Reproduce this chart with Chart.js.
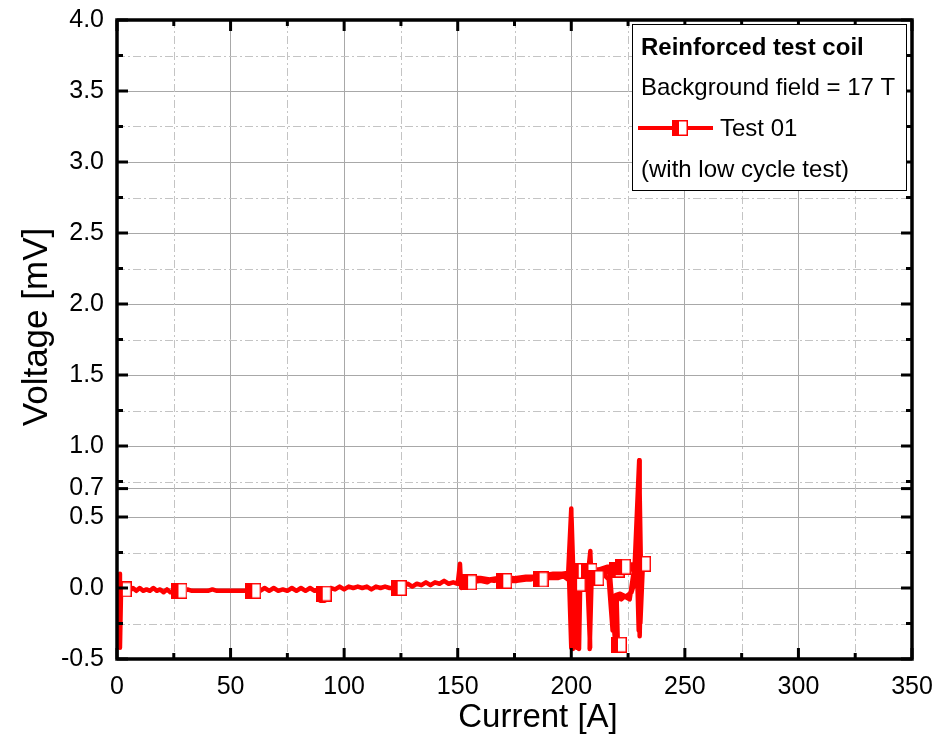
<!DOCTYPE html>
<html><head><meta charset="utf-8">
<script src="https://cdn.jsdelivr.net/npm/chart.js@4/dist/chart.umd.min.js"></script>
<style>html,body{margin:0;padding:0;background:#fff}#wrap{width:951px;height:744px;position:relative}</style>
</head><body><div id="wrap"><canvas id="c" width="951" height="744"></canvas></div>
<script>
// ---- data ----
const current = [1.0,1.3,1.8,3.0,4.5,5.5,7.0,8.5,10.0,11.5,13.0,14.5,16.0,17.5,19.0,20.5,22.0,23.5,25.0,27.0,29.0,31.0,33.0,37.0,40.0,42.0,44.0,48.0,52.0,56.0,59.0,61.0,63.0,65.0,67.0,69.0,71.0,73.0,75.0,77.0,79.0,81.0,83.0,85.0,87.0,88.5,89.5,91.5,92.5,94.0,96.0,98.0,100.0,102.0,104.0,106.0,108.0,110.0,112.0,114.0,116.0,118.0,120.0,123.0,126.0,128.0,130.0,132.0,134.0,136.0,138.0,140.0,142.0,144.0,146.0,148.0,150.0,151.0,151.5,153.0,156.0,160.0,163.0,165.0,168.0,172.0,176.0,180.0,183.0,186.0,190.0,194.0,196.0,198.5,200.0,200.7,201.5,203.4,204.0,206.0,207.5,208.4,208.1,209.0,211.0,214.0,216.9,219.1,220.5,220.0,220.5,222.0,223.5,225.7,227.9,229.9,230.1,230.8,233.0,230.0,226.0,222.0,218.0,214.0,210.0,206.0,202.0,198.0,194.0,190.0,186.0,182.0,178.0,174.0,170.0,166.0,162.0,158.0,154.0,152.0,156.0,160.0,164.0,168.0,172.0,176.0,180.0,184.0,188.0,192.0,196.0,200.0,204.0,208.0,212.0,216.0,220.0,224.0,228.0,232.0,228.0,224.0,220.0,216.0,212.0,208.0,204.0,200.5,199.6,200.3,201.0,202.2,203.0,206.0,209.0,212.0,214.0,216.5,218.2,219.5,221.5,224.0,226.5,229.0,229.6,230.4,231.5,229.4,229.9,230.6,229.7,229.0,226.0,222.0,218.0,214.0,210.0,208.8,208.4,207.8,208.3,207.0,204.0,202.5,201.8,200.9,200.1,199.2,200.0,199.0,196.0,192.0,188.0,184.0,180.0,176.0,172.0,168.0,164.0,160.0,156.0,152.5];
const voltage = [0.10,-0.42,0.00,-0.01,0.00,-0.02,0.00,-0.02,0.00,-0.02,-0.01,-0.02,0.00,-0.02,-0.01,-0.03,-0.01,-0.03,-0.02,-0.02,-0.03,-0.01,-0.02,-0.02,-0.02,-0.01,-0.02,-0.02,-0.02,-0.02,-0.02,-0.01,-0.02,0.00,-0.02,0.00,-0.02,-0.01,-0.02,0.00,-0.02,0.00,-0.02,0.00,-0.02,-0.01,-0.09,-0.09,-0.02,0.00,-0.01,0.01,-0.01,0.01,0.00,0.01,0.00,0.01,-0.01,0.01,0.00,0.01,0.00,0.00,0.01,0.03,0.01,0.03,0.02,0.04,0.02,0.04,0.03,0.05,0.03,0.04,0.03,0.17,0.00,0.05,0.04,0.05,0.04,0.06,0.05,0.05,0.05,0.06,0.07,0.06,0.08,0.08,0.09,0.06,0.56,-0.43,0.05,-0.43,0.10,0.13,0.12,0.26,-0.43,0.10,0.12,0.12,0.12,-0.34,-0.40,-0.10,-0.06,-0.08,-0.06,-0.08,0.16,0.90,-0.34,0.15,0.18,0.16,0.15,0.14,0.13,0.13,0.11,0.10,0.10,0.09,0.07,0.07,0.08,0.06,0.06,0.07,0.06,0.05,0.06,0.05,0.06,0.04,0.07,0.07,0.06,0.07,0.06,0.07,0.08,0.08,0.09,0.10,0.10,0.11,0.12,0.13,0.13,0.15,0.15,0.16,0.17,0.19,0.15,0.13,0.12,0.11,0.10,0.09,0.08,0.07,0.35,-0.42,0.00,-0.42,0.04,0.04,0.05,0.08,0.10,0.06,-0.30,-0.05,-0.04,-0.06,-0.03,0.10,0.60,-0.25,0.16,0.20,0.86,0.20,-0.30,0.10,0.14,0.13,0.12,0.11,0.10,0.10,0.24,0.10,-0.42,0.10,0.12,0.10,-0.40,0.10,0.50,0.10,-0.42,0.08,0.08,0.07,0.08,0.07,0.07,0.06,0.07,0.06,0.06,0.05,0.06,0.05];
const markerCurrent = [3,27.5,60,91,124,155,170.5,186.5,203,203.7,208,211,220,222.8,221,231.6];
const markerVoltage = [-0.01,-0.02,-0.02,-0.04,0.0,0.04,0.05,0.06,0.03,0.12,0.12,0.07,0.13,0.15,-0.40,0.17];
const xMajorTicks = [0,50,100,150,200,250,300,350];
const xMinorTicks = [25,75,125,175,225,275,325];
const yMajorTicks = [-0.5,0.0,0.5,0.7,1.0,1.5,2.0,2.5,3.0,3.5,4.0];
const yMinorTicks = [-0.25,0.25,0.75,1.25,1.75,2.25,2.75,3.25,3.75];
const legendTitle = 'Reinforced test coil';
const legendLine2 = 'Background field = 17 T';
const seriesName = 'Test 01';
const legendLine4 = '(with low cycle test)';

// ---- styling ----
const RED = '#ff0000';
const FONT = "'Liberation Sans', Arial, sans-serif";

function makeMarker(){
  const c = document.createElement('canvas');
  c.width = 16; c.height = 16;
  const g = c.getContext('2d');
  g.fillStyle = '#fff'; g.fillRect(0,0,16,16);
  g.fillStyle = RED; g.fillRect(0,0,7,16);
  g.strokeStyle = RED; g.lineWidth = 1.5;
  g.strokeRect(0.75,0.75,14.5,14.5);
  return c;
}
const markerImg = makeMarker();

const tracePts = current.map((x,i)=>({x:x,y:voltage[i]}));
const markerPts = markerCurrent.map((x,i)=>({x:x,y:markerVoltage[i]}));

const framePlugin = {
  id:'frame',
  beforeDatasetsDraw(chart){
    const ctx = chart.ctx, a = chart.chartArea, xs = chart.scales.x, ys = chart.scales.y;
    ctx.save();
    ctx.strokeStyle = '#c4c4c4'; ctx.lineWidth = 1;
    ctx.setLineDash([8,3,2,3]);
    xMinorTicks.forEach(v=>{
      const p = Math.round(xs.getPixelForValue(v))+0.5;
      ctx.beginPath(); ctx.moveTo(p,a.top); ctx.lineTo(p,a.bottom); ctx.stroke();
    });
    yMinorTicks.forEach(v=>{
      const p = Math.round(ys.getPixelForValue(v))+0.5;
      ctx.beginPath(); ctx.moveTo(a.left,p); ctx.lineTo(a.right,p); ctx.stroke();
    });
    ctx.restore();
  },
  afterDatasetsDraw(chart){
    const ctx = chart.ctx, a = chart.chartArea, xs = chart.scales.x, ys = chart.scales.y;
    ctx.save();
    ctx.strokeStyle = '#000';
    ctx.lineWidth = 3;
    const tick = (x1,y1,x2,y2)=>{ctx.beginPath();ctx.moveTo(x1,y1);ctx.lineTo(x2,y2);ctx.stroke();};
    xMajorTicks.forEach(v=>{const p=xs.getPixelForValue(v); tick(p,a.bottom,p,a.bottom-11); tick(p,a.top,p,a.top+11);});
    xMinorTicks.forEach(v=>{const p=xs.getPixelForValue(v); tick(p,a.bottom,p,a.bottom-6); tick(p,a.top,p,a.top+6);});
    yMajorTicks.forEach(v=>{const p=ys.getPixelForValue(v); tick(a.left,p,a.left+11,p); tick(a.right,p,a.right-11,p);});
    yMinorTicks.forEach(v=>{const p=ys.getPixelForValue(v); tick(a.left,p,a.left+6,p); tick(a.right,p,a.right-6,p);});
    ctx.lineWidth = 3.5;
    ctx.strokeRect(a.left, a.top, a.right-a.left, a.bottom-a.top);

    // legend box
    ctx.lineWidth = 1;
    ctx.fillStyle = '#fff';
    ctx.fillRect(632.5,24.5,274,166);
    ctx.strokeRect(632.5,24.5,274,166);
    ctx.fillStyle = '#000';
    ctx.textBaseline = 'middle';
    ctx.textAlign = 'left';
    ctx.font = 'bold 24px ' + FONT;
    ctx.fillText(legendTitle, 641, 48);
    ctx.font = '24px ' + FONT;
    ctx.fillText(legendLine2, 641, 88);
    ctx.fillText(seriesName, 720, 129);
    ctx.fillText(legendLine4, 641, 170);
    ctx.strokeStyle = RED; ctx.lineWidth = 4;
    tick(638,128,713,128);
    ctx.drawImage(markerImg, 672, 120);

    // axis titles
    ctx.fillStyle = '#000';
    ctx.textBaseline = 'alphabetic';
    ctx.textAlign = 'center';
    ctx.font = '33px ' + FONT;
    ctx.fillText('Current [A]', 538, 727);
    ctx.save();
    ctx.translate(47, 327);
    ctx.rotate(-Math.PI/2);
    ctx.font = '35px ' + FONT;
    ctx.fillText('Voltage [mV]', 0, 0);
    ctx.restore();
    ctx.restore();
  }
};

new Chart(document.getElementById('c'), {
  type:'scatter',
  data:{datasets:[
    {label:'markers', data:markerPts, showLine:false, pointStyle:markerImg, pointRadius:8, borderColor:RED, backgroundColor:'#fff'},
    {label:seriesName, data:tracePts, showLine:true, pointRadius:0, borderColor:RED, borderWidth:4.5, borderJoinStyle:'round', tension:0}
  ]},
  options:{
    responsive:false, animation:false, devicePixelRatio:1,
    layout:{padding:{left:0,top:20,right:39,bottom:0}},
    plugins:{legend:{display:false}, tooltip:{enabled:false}},
    events:[],
    scales:{
      x:{type:'linear', min:0, max:350,
        afterBuildTicks:s=>{s.ticks = xMajorTicks.map(v=>({value:v}));},
        afterFit:s=>{s.height = 85; s.paddingLeft = 0; s.paddingRight = 0;},
        ticks:{font:{family:FONT,size:25}, color:'#000', padding:13, maxRotation:0, autoSkip:false, callback:v=>String(v)},
        grid:{color:'#a8a8a8', lineWidth:1, drawTicks:false},
        border:{display:false}
      },
      y:{type:'linear', min:-0.5, max:4,
        afterBuildTicks:s=>{s.ticks = yMajorTicks.map(v=>({value:v}));},
        afterFit:s=>{s.width = 117; s.paddingTop = 0; s.paddingBottom = 0;},
        ticks:{font:{family:FONT,size:25}, color:'#000', padding:13, autoSkip:false, callback:v=>v.toFixed(1)},
        grid:{color:'#a8a8a8', lineWidth:1, drawTicks:false},
        border:{display:false}
      }
    }
  },
  plugins:[framePlugin]
});
</script>
</body></html>
